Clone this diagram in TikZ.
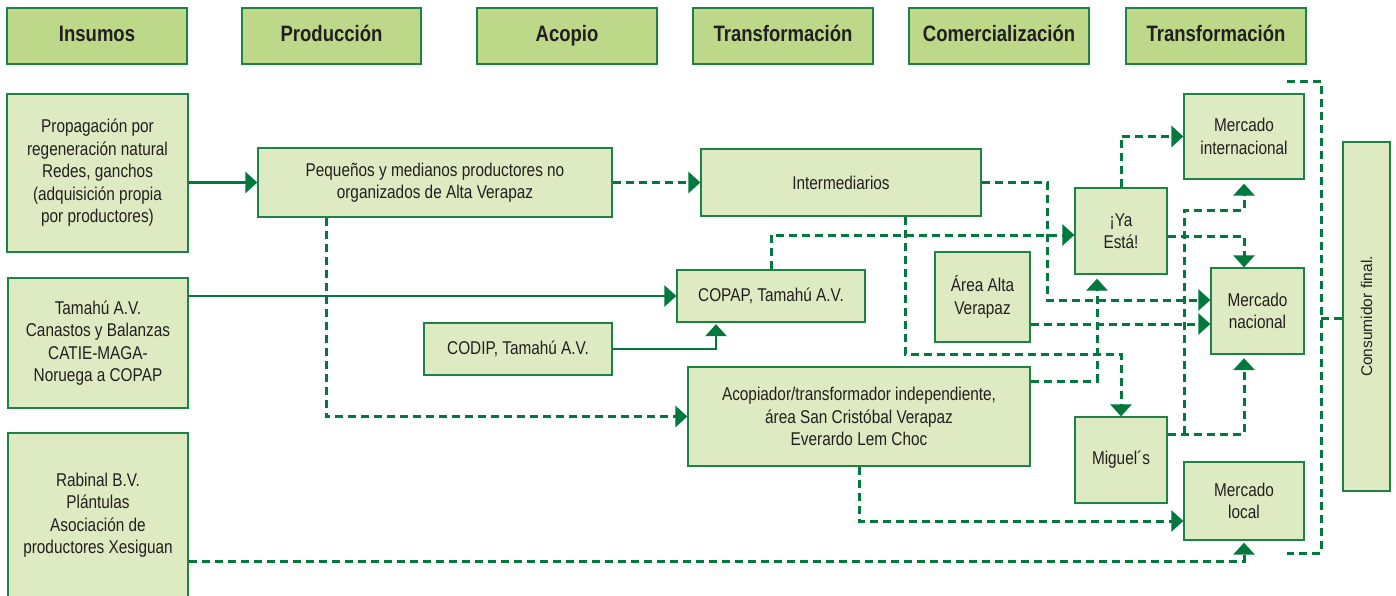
\documentclass[tikz,border=0pt]{standalone}
\usepackage{fontspec}
\setmainfont{Liberation Sans}[FakeStretch=0.83]
\newfontfamily\widesans{Liberation Sans}
\usetikzlibrary{arrows.meta,calc}
\definecolor{hdrfill}{RGB}{189,216,136}
\definecolor{boxfill}{RGB}{222,234,193}
\definecolor{edgegreen}{RGB}{30,130,70}
\definecolor{flowgreen}{RGB}{0,120,62}
\definecolor{inkdark}{RGB}{35,31,32}
\begin{document}
\begin{tikzpicture}[x=1pt,y=-1pt,
 hdr/.style={draw=edgegreen,fill=hdrfill,line width=1.3pt,inner sep=0pt,text=inkdark,minimum width=180pt,minimum height=56pt,text height=16pt,text depth=4.5pt,font=\fontsize{22.3}{25}\selectfont\bfseries},
 boxnode/.style={draw=edgegreen,fill=boxfill,line width=1.3pt,inner sep=0pt,align=center,text=inkdark,font=\fontsize{18.5}{22.5}\selectfont},
 flowline/.style={draw=flowgreen,line width=2.8pt,-{Triangle[length=12pt,width=21pt]}},
 dflow/.style={flowline,line width=3pt,dash pattern=on 8pt off 5pt},
 dline/.style={draw=flowgreen,line width=3pt,dash pattern=on 8pt off 5pt}]
\useasboundingbox (0,0) rectangle (1396,595);
\clip (0,0) rectangle (1396,595);
% headers
\node[hdr] (h1) at (97,36) {Insumos};
\node[hdr,minimum width=179pt] (h2) at (331.5,36) {Producción};
\node[hdr] (h3) at (567,36) {Acopio};
\node[hdr] (h4) at (783,36) {Transformación};
\node[hdr] (h5) at (999,36) {Comercialización};
\node[hdr] (h6) at (1216,36) {Transformación};
% boxes
\node[boxnode,minimum width=181pt,minimum height=158pt] (prop) at (97.5,173) {Propagación por\\regeneración natural\\Redes, ganchos\\(adquisición propia\\por productores)};
\node[boxnode,minimum width=180pt,minimum height=130pt] (tam) at (98,343) {Tamahú A.V.\\Canastos y Balanzas\\CATIE-MAGA-\\Noruega a COPAP};
\node[boxnode,minimum width=180pt,minimum height=164pt] (rab) at (98,515) {Rabinal B.V.\\Plántulas\\Asociación de\\productores Xesiguan};
\node[boxnode,minimum width=354pt,minimum height=69pt] (peq) at (435,182.5) {Pequeños y medianos productores no\\organizados de Alta Verapaz};
\node[boxnode,minimum width=280pt,minimum height=67pt] (inter) at (841,182.5) {Intermediarios};
\node[boxnode,minimum width=188pt,minimum height=52pt] (copap) at (771,296) {COPAP, Tamahú A.V.};
\node[boxnode,minimum width=188pt,minimum height=52pt] (codip) at (518,349) {CODIP, Tamahú A.V.};
\node[boxnode,minimum width=342pt,minimum height=99pt] (acop) at (859,416.5) {Acopiador/transformador independiente,\\área San Cristóbal Verapaz\\Everardo Lem Choc};
\node[boxnode,minimum width=95pt,minimum height=90pt] (area) at (982.5,297) {Área Alta\\Verapaz};
\node[boxnode,minimum width=92pt,minimum height=86pt] (ya) at (1121,231) {¡Ya\\Está!};
\node[boxnode,minimum width=92pt,minimum height=86pt] (mig) at (1121,460) {Miguel´s};
\node[boxnode,minimum width=120pt,minimum height=85pt] (mint) at (1244,136.5) {Mercado\\internacional};
\node[boxnode,minimum width=93pt,minimum height=86pt] (mnac) at (1257.5,311) {Mercado\\nacional};
\node[boxnode,minimum width=120pt,minimum height=78pt] (mloc) at (1244,501) {Mercado\\local};
\node[boxnode,minimum width=47pt,minimum height=349pt] (cons) at (1366.5,316.5) {\rotatebox{90}{\widesans\fontsize{15.5}{18}\selectfont Consumidor final.}};
% connectors
\draw[flowline] (prop.east |- peq.west) -- (peq.west);
\draw[dflow] (peq.east) -- (inter.west);
\draw[flowline] (tam.east |- copap.west) -- (copap.west);
\draw[flowline] (codip.east) -| ([xshift=-55pt,yshift=-1.5pt]copap.south);
\draw[dflow] ([xshift=-109pt]peq.south) |- (acop.west);
\draw[dflow] (inter.east) -| (1047,300) -- (mnac.west |- 0,300);
\draw[dflow] (copap.north) |- (ya.west |- 0,235);
\draw[dflow] ([xshift=64pt]inter.south) |- (1121,354) -- (mig.north);
\draw[dflow] (area.east |- 0,324) -- (mnac.west |- 0,324);
\draw[dflow] (acop.east |- 0,381) -| ([xshift=-24pt,yshift=-4pt]ya.south);
\draw[dflow] (ya.north) |- (mint.west);
\draw[dflow] (ya.east |- 0,236) -| ([xshift=-13.5pt]mnac.north);
\draw[dflow] (mig.east |- 0,434) -| ([xshift=-13.5pt,yshift=-3.5pt]mnac.south);
\coordinate (jn) at (1184,434);
\draw[dflow] (jn) -- (1184,210) -| ([yshift=-4pt]mint.south);
\draw[dflow] (acop.south) |- (mloc.west |- 0,521);
\draw[dflow] (rab.east |- 0,561) -| ([yshift=-2pt]mloc.south);
\coordinate (bt) at (1287,81);
\coordinate (bb) at (1287,553);
\coordinate (bm) at (1321,318);
\draw[dline] (bt) -- (1321,81) -- (1321,553) -- (bb);
\draw[dline] (bm) -- (cons.west |- bm);
\end{tikzpicture}
\end{document}
